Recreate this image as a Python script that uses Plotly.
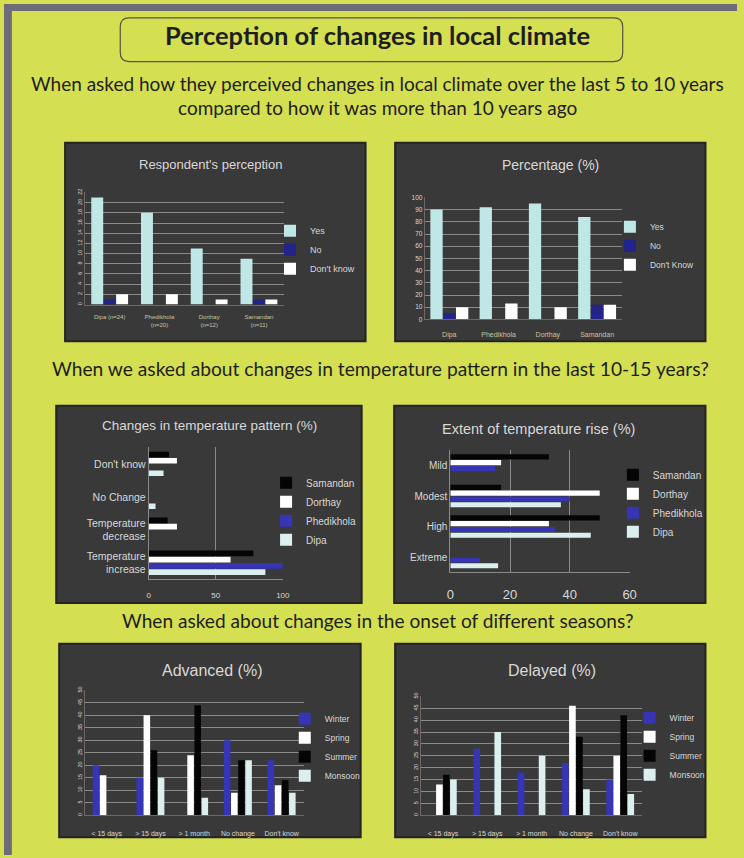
import plotly.graph_objects as go

W, H = 744, 858


def px(x):
    return x / W


def py(y):
    return 1 - y / H


# ---------------- data ----------------
# Respondent's perception (counts)
villages_n = ["Dipa (n=24)", "Phedikhola<br>(n=20)", "Dorthay<br>(n=12)", "Samandan<br>(n=11)"]
resp_yes = [21, 18, 11, 9]
resp_no = [1, 0, 0, 1]
resp_dk = [2, 2, 1, 1]

# Percentage (%)
villages = ["Dipa", "Phedikhola", "Dorthay", "Samandan"]
pct_yes = [90, 92, 95, 84]
pct_no = [5, 0, 0, 12]
pct_dk = [10, 13, 10, 12]

# Changes in temperature pattern (%)
pattern_cats = ["Temperature<br>increase", "Temperature<br>decrease", "No Change", "Don't know"]
pattern_dipa = [87, 0, 5, 11]
pattern_phedikhola = [100, 0, 0, 0]
pattern_dorthay = [61, 21, 0, 21]
pattern_samandan = [78, 14, 0, 15]

# Extent of temperature rise (%)
rise_cats = ["Extreme", "High", "Modest", "Mild"]
rise_dipa = [16, 47, 37, 0]
rise_phedikhola = [10, 35, 40, 15]
rise_dorthay = [0, 33, 50, 17]
rise_samandan = [0, 50, 17, 33]

# Onset of seasons (%)
onset_cats = ["< 15 days", "> 15 days", "> 1 month", "No change", "Don't know"]
adv_winter = [20, 15, 0, 30, 22]
adv_spring = [16, 40, 24, 9, 12]
adv_summer = [0, 26, 44, 22, 14]
adv_monsoon = [0, 15, 7, 22, 9]

del_winter = [0, 28, 18, 22, 15]
del_spring = [13, 0, 0, 46, 25]
del_summer = [17, 0, 0, 33, 42]
del_monsoon = [15, 35, 25, 11, 9]

# ---------------- styles ----------------
YELLOW = "#d5df52"
FRAME = "#6e6b78"
PANEL = "#393939"
PANEL_EDGE = "#242424"
LIGHT = "#d8d8d8"
KHAKI = "#c9c59c"
GRID = "#8a8a8a"
DARKTXT = "#1e1e1e"

CYAN = "#bfe7e5"
NAVY = "#23238c"
WHITE = "#ffffff"
BLUE = "#3535b5"
PALE = "#dcefef"
BLACK = "#050505"

SANS = "Liberation Sans, Arial, sans-serif"
HEAD = "Lato, Open Sans, sans-serif"

fig = go.Figure()


def grouped(x_or_y, values_list, names, colors, axes, legend, width, step, horizontal=False):
    n = len(values_list)
    start = -step * n / 2 + (step - width) / 2
    for i, (vals, name, col) in enumerate(zip(values_list, names, colors)):
        kw = dict(name=name, marker=dict(color=col, line=dict(width=0)),
                  width=width, offset=start + i * step,
                  xaxis=axes[0], yaxis=axes[1], legend=legend)
        if horizontal:
            fig.add_bar(y=x_or_y, x=vals, orientation="h", **kw)
        else:
            fig.add_bar(x=x_or_y, y=vals, **kw)


# Chart 1
grouped(villages_n, [resp_yes, resp_no, resp_dk], ["Yes", "No", "Don't know"],
        [CYAN, NAVY, WHITE], ("x", "y"), "legend", 0.24, 0.25)
# Chart 2
grouped(villages, [pct_yes, pct_no, pct_dk], ["Yes", "No", "Don't Know"],
        [CYAN, NAVY, WHITE], ("x2", "y2"), "legend2", 0.25, 0.26)
# Chart 3 (first trace drawn lowest in each group)
grouped(pattern_cats, [pattern_dipa, pattern_phedikhola, pattern_dorthay, pattern_samandan],
        ["Dipa", "Phedikhola", "Dorthay", "Samandan"], [PALE, BLUE, WHITE, BLACK],
        ("x3", "y3"), "legend3", 0.17, 0.19, horizontal=True)
# Chart 4
grouped(rise_cats, [rise_dipa, rise_phedikhola, rise_dorthay, rise_samandan],
        ["Dipa", "Phedikhola", "Dorthay", "Samandan"], [PALE, BLUE, WHITE, BLACK],
        ("x4", "y4"), "legend4", 0.17, 0.19, horizontal=True)
# Chart 5
grouped(onset_cats, [adv_winter, adv_spring, adv_summer, adv_monsoon],
        ["Winter", "Spring", "Summer", "Monsoon"], [BLUE, WHITE, BLACK, PALE],
        ("x5", "y5"), "legend5", 0.15, 0.163)
# Chart 6
grouped(onset_cats, [del_winter, del_spring, del_summer, del_monsoon],
        ["Winter", "Spring", "Summer", "Monsoon"], [BLUE, WHITE, BLACK, PALE],
        ("x6", "y6"), "legend6", 0.15, 0.158)

# ---------------- shapes: frame, title box, panels ----------------
shapes = [
    dict(type="rect", xref="paper", yref="paper", x0=0, x1=px(8), y0=0, y1=1,
         fillcolor=FRAME, line=dict(width=0), layer="below"),
    dict(type="rect", xref="paper", yref="paper", x0=0, x1=1, y0=py(7), y1=1,
         fillcolor=FRAME, line=dict(width=0), layer="below"),
]


def rounded(x0, y0, x1, y1, r):
    rx, ry = r / W, r / H
    X0, X1 = px(x0), px(x1)
    Y0, Y1 = py(y0), py(y1)  # Y0 top, Y1 bottom
    return (f"M {X0+rx},{Y0} L {X1-rx},{Y0} Q {X1},{Y0} {X1},{Y0-ry} "
            f"L {X1},{Y1+ry} Q {X1},{Y1} {X1-rx},{Y1} L {X0+rx},{Y1} "
            f"Q {X0},{Y1} {X0},{Y1+ry} L {X0},{Y0-ry} Q {X0},{Y0} {X0+rx},{Y0} Z")


shapes.append(dict(type="path", xref="paper", yref="paper", path=rounded(118, 14, 628, 58, 9),
                   fillcolor=YELLOW, line=dict(color="#55553f", width=1.2), layer="below"))

panels = [(62, 140, 367, 340), (397, 140, 712, 340),
          (53, 405, 363, 604), (396, 405, 712, 604),
          (56, 645, 362, 840), (397, 645, 712, 840)]
for x0, y0, x1, y1 in panels:
    shapes.append(dict(type="rect", xref="paper", yref="paper",
                       x0=px(x0), x1=px(x1), y0=py(y1), y1=py(y0),
                       fillcolor=PANEL, line=dict(color=PANEL_EDGE, width=2), layer="below"))

# ---------------- text ----------------
ann = []


def text(s, x, y, size, color=DARKTXT, family=HEAD, bold=False):
    ann.append(dict(text=f"<b>{s}</b>" if bold else s, x=px(x), y=py(y), xref="paper", yref="paper",
                    showarrow=False, xanchor="center", yanchor="middle",
                    font=dict(size=size, color=color, family=family)))


text("Perception of changes in local climate", 379, 31, 25.5, bold=True)
text("When asked how they perceived changes in local climate over the last 5 to 10 years", 379, 80, 19)
text("compared to how it was more than 10 years ago", 379, 104, 19)
text("When we asked about changes in temperature pattern in the last 10-15 years?", 382, 367, 19.2)
text("When asked about changes in the onset of different seasons?", 380, 622, 19.1)

text("Respondent's perception", 210, 162, 13, LIGHT, SANS)
text("Percentage (%)", 555, 162, 14, LIGHT, SANS)
text("Changes in temperature pattern (%)", 209, 425, 13.5, LIGHT, SANS)
text("Extent of temperature rise (%)", 543, 428, 14.5, LIGHT, SANS)
text("Advanced (%)", 212, 672, 16, LIGHT, SANS)
text("Delayed (%)", 556, 672, 16, LIGHT, SANS)

# ---------------- axes ----------------
def vaxis(d0, d1, rng, dtick, size=6, angle=None):
    a = dict(domain=[py(d1), py(d0)], range=rng, dtick=dtick, showgrid=True, gridcolor=GRID,
             gridwidth=1, zeroline=False, showline=True, linecolor="#6a6a6a",
             tickfont=dict(size=size, color=LIGHT, family=SANS), ticks="", fixedrange=True)
    if angle is not None:
        a["tickangle"] = angle
    return a


def caxis(d0, d1, size, color=KHAKI, standoff=4):
    return dict(domain=[px(d0), px(d1)], showgrid=False, zeroline=False, showline=True,
                linecolor="#6a6a6a", tickfont=dict(size=size, color=color, family=SANS),
                ticks="", fixedrange=True, ticklabelstandoff=standoff)


layout_axes = {
    "xaxis": dict(caxis(82, 284, 6, KHAKI, 6), anchor="y"),
    "yaxis": dict(vaxis(190, 303, [0, 22], 2, 5.5, -90), anchor="x"),
    "xaxis2": dict(caxis(427, 627, 7, KHAKI, 8), anchor="y2"),
    "yaxis2": dict(vaxis(195, 318, [0, 100], 10, 6.5), anchor="x2"),
    "xaxis3": dict(domain=[px(147), px(283)], range=[0, 100], dtick=50, showgrid=True,
                   gridcolor=GRID, zeroline=False, showline=True, linecolor=GRID, mirror=False,
                   tickfont=dict(size=8, color=LIGHT, family=SANS), ticks="", anchor="y3",
                   fixedrange=True, ticklabelstandoff=8),
    "yaxis3": dict(domain=[py(580), py(447)], showgrid=False, zeroline=False, showline=True,
                   linecolor=GRID, tickfont=dict(size=10.5, color=LIGHT, family=SANS), ticks="",
                   anchor="x3", fixedrange=True),
    "xaxis4": dict(domain=[px(453), px(635)], range=[0, 60], dtick=20, showgrid=True,
                   gridcolor=GRID, zeroline=False, showline=True, linecolor=GRID,
                   tickfont=dict(size=13, color=LIGHT, family=SANS), ticks="", anchor="y4",
                   fixedrange=True, ticklabelstandoff=10),
    "yaxis4": dict(domain=[py(573), py(450)], showgrid=False, zeroline=False, showline=True,
                   linecolor=GRID, tickfont=dict(size=10, color=LIGHT, family=SANS), ticks="",
                   anchor="x4", fixedrange=True),
    "xaxis5": dict(caxis(82, 304, 7, LIGHT, 11), anchor="y5"),
    "yaxis5": dict(vaxis(692, 818, [0, 50], 5, 5.5, -90), anchor="x5"),
    "xaxis6": dict(caxis(423, 648, 7, LIGHT, 11), anchor="y6"),
    "yaxis6": dict(vaxis(698, 818, [0, 50], 5, 5.5, -90), anchor="x6"),
}


def legend_at(text_x, top_y, size, order="normal"):
    return dict(x=px(text_x - 40), y=py(top_y), xanchor="left", yanchor="top",
                bgcolor="rgba(0,0,0,0)", borderwidth=0, traceorder=order,
                font=dict(size=size, color=LIGHT, family=SANS))


fig.update_layout(
    width=W, height=H, margin=dict(l=0, r=0, t=0, b=0),
    paper_bgcolor=YELLOW, plot_bgcolor="rgba(0,0,0,0)",
    font=dict(family=SANS, color=LIGHT),
    shapes=shapes, annotations=ann,
    legend=legend_at(310, 214, 9),
    legend2=legend_at(655, 210, 8.5),
    legend3=legend_at(306, 468, 10, "reversed"),
    legend4=legend_at(658, 460, 10, "reversed"),
    legend5=legend_at(325, 706, 8.5),
    legend6=legend_at(675, 705, 8.5),
    **layout_axes,
)

fig.write_html("out.html")
